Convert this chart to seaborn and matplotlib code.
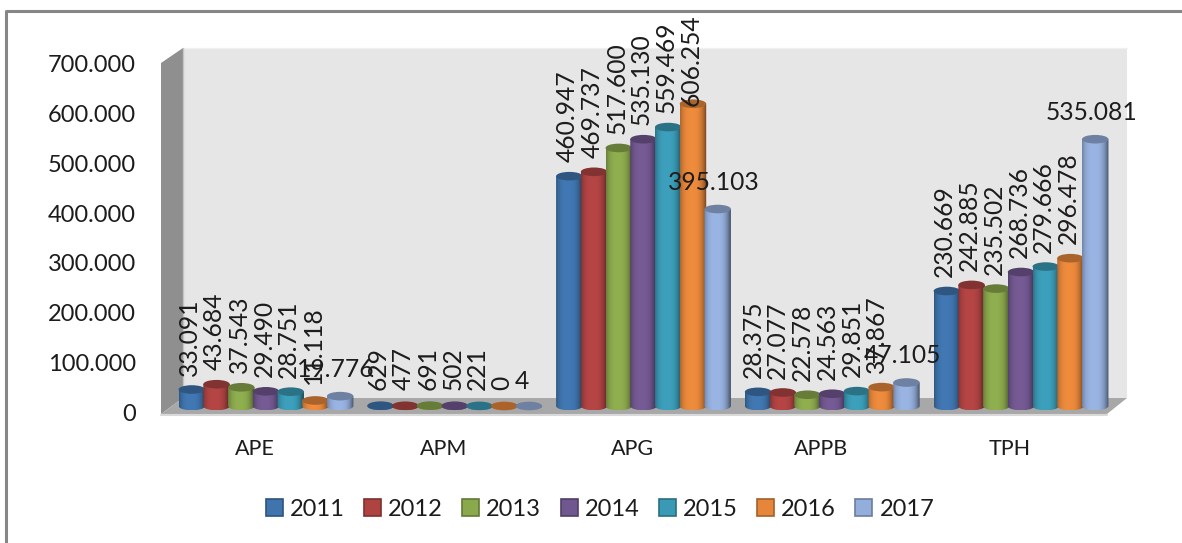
import numpy as np
import pandas as pd
import matplotlib
matplotlib.use("Agg")
import matplotlib.pyplot as plt
from matplotlib.colors import to_rgb
from matplotlib.patches import Polygon, Ellipse, PathPatch
from matplotlib.path import Path
from matplotlib.transforms import Affine2D, ScaledTranslation
import seaborn as sns

categories = ["APE", "APM", "APG", "APPB", "TPH"]
years = ["2011", "2012", "2013", "2014", "2015", "2016", "2017"]
values_2011 = [33091, 629, 460947, 28375, 230669]
values_2012 = [43684, 477, 469737, 27077, 242885]
values_2013 = [37543, 691, 517600, 22578, 235502]
values_2014 = [29490, 502, 535130, 24563, 268736]
values_2015 = [28751, 221, 559469, 29851, 279666]
values_2016 = [11118, 0, 606254, 37867, 296478]
values_2017 = [19776, 4, 395103, 47105, 535081]
series = [values_2011, values_2012, values_2013, values_2014, values_2015, values_2016, values_2017]
colors = ["#3f74ad", "#ae4342", "#8aa84c", "#71578f", "#3a9ab5", "#e5863a", "#94aedb"]
y_ticks = [0, 100000, 200000, 300000, 400000, 500000, 600000, 700000]

W, H = 1182, 543
FONT = "Lato"
FS = 17
LABEL_FS = 17.7
TXT = "#1c1c1c"

df = pd.DataFrame(
    [(c, y, s[i]) for y, s in zip(years, series) for i, c in enumerate(categories)],
    columns=["category", "year", "value"],
)

sns.set_theme(style="white")
plt.rcParams["font.family"] = [FONT, "DejaVu Sans"]

fig = plt.figure(figsize=(W / 100, H / 100), dpi=100, facecolor="white")
# axes placed so that categories and the value scale line up with the picture
ax_l, ax_r, ax_b, ax_t = 171.6, 1115.4, 406, 57
ax = fig.add_axes([ax_l / W, 1 - ax_b / H, (ax_r - ax_l) / W, (ax_b - ax_t) / H])
ax.patch.set_alpha(0)

sns.barplot(
    data=df, x="category", y="value", hue="year", order=categories, hue_order=years,
    palette=colors, saturation=1, width=0.917, gap=0, ax=ax, errorbar=None, zorder=3,
)

px = Affine2D().scale(1 / W, -1 / H).translate(0, 1) + fig.transFigure


def deco(points, fc, z=0.5, ec="none", lw=0):
    ax.add_patch(Polygon(points, closed=True, transform=px, facecolor=fc, edgecolor=ec,
                         linewidth=lw, clip_on=False, zorder=z))


# Excel style 3-D box and the frame around the chart
deco([(183, 48), (1127, 48), (1127, 398), (183, 398)], "#e6e6e6")
ax.add_line(plt.Line2D([183, 1127], [48, 48], transform=px, color="#f0f0f0", lw=1, clip_on=False, zorder=0.6))
deco([(161, 63), (183, 48), (183, 398), (161, 414)], "#8f8f8f")
ax.add_line(plt.Line2D([183, 183], [48, 398], transform=px, color="#c4c4c4", lw=1, clip_on=False, zorder=0.6))
deco([(161, 414), (183, 398), (1127, 398), (1107, 414)], "#a8a8a8")
ax.add_line(plt.Line2D([161, 1107], [415, 415], transform=px, color="#d9d9d9", lw=1.5, clip_on=False, zorder=0.6))
ax.add_line(plt.Line2D([5.5, 5.5, W], [H, 10.5, 10.5], transform=px, color="#868686", lw=2.2, clip_on=False, zorder=0.6))

ax.set_xlim(-0.5, 4.5)
ax.set_ylim(0, 700000)
y_per_px = 700000 / (ax_b - ax_t)
eh = 4.3 * y_per_px  # half height of the cylinder ellipse, in data units
grow = 1.07          # cylinders overlap their neighbours slightly

grad_t = np.linspace(-1, 1, 64)
shade = 0.62 + 0.42 * (1 - np.abs(grad_t + 0.12) ** 3.0)
shade = np.clip(shade, 0, 1.06)

for i, cont in enumerate(ax.containers):
    rgb = np.array(to_rgb(colors[i]))
    grad = np.clip(rgb[None, None, :] * shade[None, :, None], 0, 1)
    z = 3 + i * 0.1
    for bar in cont.patches:
        h = bar.get_height()
        xc = bar.get_x() + bar.get_width() / 2
        w = bar.get_width() * grow
        x0, x1 = xc - w / 2, xc + w / 2
        th = np.linspace(0, np.pi, 30)
        xs = xc + np.cos(th) * w / 2
        ys = -np.sin(th) * eh
        verts = [(x0, h)] + list(zip(xs[::-1], ys[::-1])) + [(x1, h), (x0, h)]
        clip = PathPatch(Path(verts), transform=ax.transData, visible=False)
        ax.add_patch(clip)
        im = ax.imshow(grad, extent=(x0, x1, -eh, max(h, eh)), aspect="auto", interpolation="bilinear", zorder=z)
        im.set_clip_path(clip if h > 0 else Ellipse((xc, 0), w, 2 * eh, transform=ax.transData))
        im.set_clip_box(fig.bbox)
        ax.add_patch(Ellipse((xc, h), w, 2 * eh, facecolor=rgb * 0.74, edgecolor="none",
                             zorder=z + 0.01, clip_on=False))
        bar.set_visible(False)
ax.set_xlim(-0.5, 4.5)
ax.set_ylim(0, 700000)

# data labels
for i, cont in enumerate(ax.containers):
    for j, bar in enumerate(cont.patches):
        v = series[i][j]
        txt = f"{v:,}".replace(",", ".")
        xc = bar.get_x() + bar.get_width() / 2
        if i == 6:
            dy = 24 if v < 100 else 27
            dx = -7 if v < 100 else -4
            ax.annotate(txt, (xc, v), xytext=(dx, dy), textcoords="offset pixels", ha="center", va="center",
                        rotation=0, fontsize=LABEL_FS, color=TXT, zorder=10, annotation_clip=False)
        else:
            dy = 14
            if v == 606254:
                dy = -2
            elif v < 15000:
                dy = 16
            dx = -5 if categories[j] == "APPB" else -2
            ax.annotate(txt, (xc, v), xytext=(dx, dy), textcoords="offset pixels", ha="center", va="bottom",
                        rotation=90, fontsize=LABEL_FS, color=TXT, zorder=10, annotation_clip=False)

# axes texts
ax.set_xlabel("")
ax.set_ylabel("")
ax.set_yticks(y_ticks)
ax.set_yticklabels([f"{v:,}".replace(",", ".") for v in y_ticks])
ax.tick_params(axis="y", length=0, pad=25.6, labelsize=FS, labelcolor=TXT)
ax.tick_params(axis="x", length=0, pad=24, labelsize=FS - 1.5, labelcolor=TXT)
sns.despine(ax=ax, left=True, bottom=True)
ax.grid(False)
off_x = ScaledTranslation(-11 / 100, 0, fig.dpi_scale_trans)
off_y = ScaledTranslation(0, -6.5 / 100, fig.dpi_scale_trans)
for lab in ax.get_xticklabels():
    lab.set_transform(lab.get_transform() + off_x)
for lab in ax.get_yticklabels():
    lab.set_transform(lab.get_transform() + off_y)

# legend
sns.move_legend(
    ax, loc="center", bbox_to_anchor=(600 / W, 1 - 509 / H), bbox_transform=fig.transFigure,
    ncol=7, frameon=False, title=None, fontsize=FS, handlelength=0.72, handleheight=0.72,
    handletextpad=0.3, columnspacing=0.82, borderpad=0, borderaxespad=0,
)
leg = ax.get_legend()
leg.set_zorder(20)
for t in leg.get_texts():
    t.set_color(TXT)
for h, c in zip(leg.legend_handles, colors):
    h.set_visible(True)
    h.set_facecolor(c)
    h.set_edgecolor(np.array(to_rgb(c)) * 0.72)
    h.set_linewidth(1.2)

fig.savefig("out.png", dpi=100, facecolor="white")
